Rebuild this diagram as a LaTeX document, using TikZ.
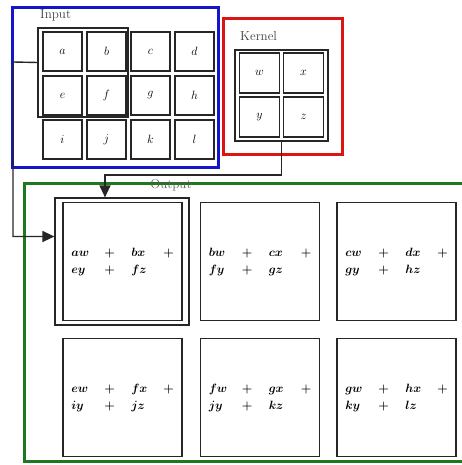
\documentclass[tikz,border=0pt]{standalone}
\usetikzlibrary{arrows.meta}
\definecolor{inblue}{RGB}{20,20,205}
\definecolor{kred}{RGB}{220,20,20}
\definecolor{ogreen}{RGB}{30,120,30}
\newcommand\outtxt[4]{\begin{tabular}{@{}l@{}}\makebox[33pt][l]{$#1$}\makebox[27pt][l]{$+$}\makebox[32pt][l]{$#2$}$+$\\[1pt]\makebox[33pt][l]{$#3$}\makebox[27pt][l]{$+$}\makebox[32pt][l]{$#4$}\phantom{$+$}\end{tabular}}
\begin{document}
\begin{tikzpicture}[x=1pt,y=-1pt,font=\fontsize{13}{15}\selectfont,
  cell/.style={draw=black!85,line width=1.5pt,minimum size=39pt,inner sep=0pt},
  kcell/.style={draw=black!85,line width=1.6pt,minimum size=40pt,inner sep=0pt},
  frame/.style={draw=black!85,line width=1.2pt,inner sep=0pt},
  obox/.style={draw=black!85,line width=1.3pt,minimum width=119pt,minimum height=118pt,inner sep=0pt},
  conn/.style={draw=black!85,line width=1.4pt},
  tip/.style={-{Triangle[length=12pt,width=11pt]}},
  lab/.style={text=black!75,inner sep=0pt}]
\useasboundingbox (0,0) rectangle (462,465);
% Input
\draw[inblue,line width=3pt] (12,8) rectangle (218,167);
\node[lab,anchor=west] (inlab) at (40,15) {Input};
\foreach \n/\c/\r in {a/0/0,b/1/0,c/2/0,d/3/0,e/0/1,f/1/1,g/2/1,h/3/1,i/0/2,j/1/2,k/2/2,l/3/2}
  \node[cell] (\n) at (62.5+44*\c,51.5+44*\r) {$\n$};
\node[frame,minimum width=90pt,minimum height=89pt] (hl) at (83,72.5) {};
% Kernel
\draw[kred,line width=3pt] (223,19) rectangle (342,155);
\node[lab,anchor=west] (klab) at (240,36) {Kernel};
\node[frame,minimum width=93pt,minimum height=91pt] (kout) at (281.5,95.5) {};
\node[kcell] (w) at (259.5,73) {$w$};
\node[kcell] (x) at (303.5,73) {$x$};
\node[kcell] (y) at (259.5,117) {$y$};
\node[kcell] (z) at (303.5,117) {$z$};
% Output
\draw[ogreen,line width=3pt] (462,183.5) -- (24,183.5) -- (24,461.5) -- (462,461.5);
\node[lab,text=black!65] (olab) at (171,185) {Output};
\node[frame,minimum width=134pt,minimum height=127pt] (o1h) at (122,261.5) {};
\node[obox] (o1) at (122.5,261.5) {};
\node[obox] (o2) at (260,261.5) {};
\node[obox] (o3) at (396.5,261.5) {};
\node[obox] (o4) at (122.5,397.5) {};
\node[obox] (o5) at (260,397.5) {};
\node[obox] (o6) at (396.5,397.5) {};
\begin{scope}[every node/.style={font=\fontsize{13}{16}\selectfont\boldmath,inner sep=0pt}]
\node (t1) at (o1.center) {\outtxt{aw}{bx}{ey}{fz}};
\node (t2) at (o2.center) {\outtxt{bw}{cx}{fy}{gz}};
\node (t3) at (o3.center) {\outtxt{cw}{dx}{gy}{hz}};
\node (t4) at (o4.center) {\outtxt{ew}{fx}{iy}{jz}};
\node (t5) at (o5.center) {\outtxt{fw}{gx}{jy}{kz}};
\node (t6) at (o6.center) {\outtxt{gw}{hx}{ky}{lz}};
\end{scope}
% connectors
\coordinate (c1) at (13,62);
\coordinate (k2) at (105,175);
\draw[conn,tip] ([yshift=10pt]hl.west) -- (c1) |- ([yshift=25pt]o1h.west);
\draw[conn,tip] (kout.south) |- (k2) -- (k2 |- o1h.north);
\end{tikzpicture}
\end{document}
